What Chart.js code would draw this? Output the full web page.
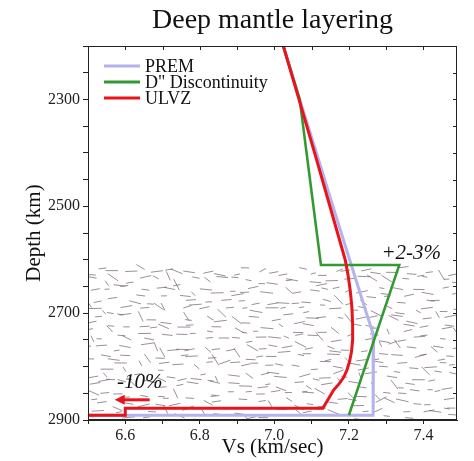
<!DOCTYPE html>
<html>
<head>
<meta charset="utf-8">
<script src="https://cdn.jsdelivr.net/npm/chart.js@4/dist/chart.umd.min.js"></script>
<style>
  html, body { margin: 0; padding: 0; background: #fff; }
  #wrap { width: 474px; height: 461px; position: relative; }
</style>
</head>
<body>
<div id="wrap"><canvas id="c"></canvas></div>
<script>
// Shear-wave velocity profiles (Vs in km/s against depth in km)
const premVs    = [7.024, 7.068, 7.113, 7.157, 7.202, 7.247, 7.266, 7.265, 6.500];
const premDepth = [2200, 2300, 2400, 2500, 2600, 2700, 2741, 2891, 2891];

const dppVs     = [7.024, 7.068, 7.125, 7.335, 7.200];
const dppDepth  = [2200, 2300, 2610, 2610, 2891];

const ulvzVs    = [7.024, 7.066, 7.108, 7.149, 7.190, 7.198, 7.204, 7.208, 7.210, 7.210,
                   7.207, 7.202, 7.195, 7.186, 7.174, 7.159, 7.130, 6.600, 6.600, 6.500];
const ulvzDepth = [2200, 2300, 2400, 2500, 2600, 2630, 2660, 2690, 2720, 2750,
                   2772, 2790, 2806, 2820, 2832, 2844, 2878, 2878, 2891, 2891];

const seriesNames = ['PREM', 'D" Discontinuity', 'ULVZ'];
const xTickLabels = ['6.6', '6.8', '7.0', '7.2', '7.4'];
const yTickLabels = ['2300', '2500', '2700', '2900'];

const dLayerTop = 2612;      // top of the textured D" region
const dppJump = { vs: 7.335, depth: 2610, text: '+2-3%' };
const ulvzDrop = { vs: 6.585, depth: 2836, text: '-10%' };

const serif = "'Liberation Serif', 'Times New Roman', serif";
const colors = ['#b3b3ee', '#339933', '#e8141c'];

function pts(xs, ys) { return xs.map((x, i) => ({ x: x, y: ys[i] })); }

// small deterministic generator for the texture strokes
function lcg(seed) {
  let s = seed >>> 0;
  return () => { s = (Math.imul(s, 1664525) + 1013904223) >>> 0; return s / 4294967296; };
}

const texture = {
  id: 'texture',
  beforeDatasetsDraw(chart) {
    const { ctx, chartArea: a, scales: { y } } = chart;
    const top = y.getPixelForValue(dLayerTop);
    const bottom = a.bottom;
    const r = lcg(20240611);
    ctx.save();
    ctx.beginPath();
    ctx.rect(a.left, a.top, a.right - a.left, a.bottom - a.top);
    ctx.clip();
    ctx.strokeStyle = 'rgba(112,94,112,0.7)';
    ctx.lineWidth = 1;
    const cw = 13, ch = 9.5;
    for (let yy = top; yy < bottom; yy += ch) {
      for (let xx = a.left - 4; xx < a.right; xx += cw) {
        const cx = xx + r() * cw;
        const cy = yy + r() * ch;
        const len = 5 + r() * 8;
        const ang = r() < 0.65 ? (r() - 0.5) * 0.45 : (r() - 0.3) * 1.7;
        const dx = Math.cos(ang) * len / 2, dy = Math.sin(ang) * len / 2;
        ctx.beginPath();
        ctx.moveTo(cx - dx, cy - dy);
        ctx.lineTo(cx + dx, cy + dy);
        ctx.stroke();
      }
    }
    ctx.restore();
  }
};

const decorations = {
  id: 'decorations',
  afterDraw(chart) {
    const { ctx, chartArea: a, scales: { x, y } } = chart;
    ctx.save();
    // title
    ctx.fillStyle = '#111';
    ctx.font = '28px ' + serif;
    ctx.textAlign = 'center';
    ctx.textBaseline = 'middle';
    ctx.fillText('Deep mantle layering', (a.left + a.right) / 2, 21);

    // frame
    ctx.strokeStyle = '#222';
    ctx.lineWidth = 1;
    ctx.strokeRect(a.left + 0.5, a.top + 0.5, a.right - a.left - 1, a.bottom - a.top - 1);

    // inward ticks on top and right
    ctx.beginPath();
    x.ticks.forEach(t => {
      const px = Math.round(x.getPixelForValue(t.value)) + 0.5;
      ctx.moveTo(px, a.top); ctx.lineTo(px, a.top + 4);
    });
    y.ticks.forEach(t => {
      const py = Math.round(y.getPixelForValue(t.value)) + 0.5;
      ctx.moveTo(a.right, py); ctx.lineTo(a.right - 4, py);
    });
    ctx.stroke();

    // legend
    ctx.font = '18px ' + serif;
    ctx.textAlign = 'left';
    chart.data.datasets.forEach((ds, i) => {
      const ly = a.top + 20 + i * 16;
      ctx.strokeStyle = ds.borderColor;
      ctx.lineWidth = 3;
      ctx.beginPath();
      ctx.moveTo(a.left + 16, ly); ctx.lineTo(a.left + 52, ly);
      ctx.stroke();
      ctx.fillStyle = '#111';
      ctx.fillText(ds.label, a.left + 57, ly + 1);
    });

    // annotations
    ctx.font = 'italic 21px ' + serif;
    ctx.textAlign = 'center';
    ctx.fillStyle = '#111';
    ctx.fillText(dppJump.text, x.getPixelForValue(dppJump.vs) + 12, y.getPixelForValue(dppJump.depth) - 12);
    const tx = x.getPixelForValue(ulvzDrop.vs);
    const ty = y.getPixelForValue(ulvzDrop.depth);
    ctx.fillText(ulvzDrop.text, tx + 20, ty - 3);

    // arrow pointing toward lower velocity
    const ay = ty + 14;
    const ax0 = tx + 30, ax1 = tx - 5;
    ctx.strokeStyle = colors[2];
    ctx.fillStyle = colors[2];
    ctx.lineWidth = 3;
    ctx.beginPath();
    ctx.moveTo(ax0, ay); ctx.lineTo(ax1 + 7, ay);
    ctx.stroke();
    ctx.beginPath();
    ctx.moveTo(ax1, ay); ctx.lineTo(ax1 + 10, ay - 5); ctx.lineTo(ax1 + 10, ay + 5);
    ctx.closePath();
    ctx.fill();
    ctx.restore();
  }
};

const lineStyle = (i) => ({
  label: seriesNames[i],
  borderColor: colors[i],
  backgroundColor: colors[i],
  borderWidth: i === 1 ? 2.6 : 3,
  showLine: true,
  pointRadius: 0,
  tension: 0,
  fill: false,
  borderJoinStyle: 'miter',
  order: 2 - i
});

new Chart(document.getElementById('c'), {
  type: 'scatter',
  data: {
    datasets: [
      Object.assign({ data: pts(premVs, premDepth) }, lineStyle(0)),
      Object.assign({ data: pts(dppVs, dppDepth) }, lineStyle(1)),
      Object.assign({ data: pts(ulvzVs, ulvzDepth) }, lineStyle(2))
    ]
  },
  options: {
    responsive: true,
    maintainAspectRatio: false,
    animation: false,
    layout: { padding: { top: 46, right: 17, left: 0, bottom: 0 } },
    plugins: { legend: { display: false }, tooltip: { enabled: false }, title: { display: false } },
    scales: {
      x: {
        type: 'linear', min: 6.5, max: 7.49,
        afterFit(s) { s.height = 41; },
        ticks: {
          stepSize: 0.1, includeBounds: false, autoSkip: false, maxRotation: 0, padding: 2,
          color: '#222', font: { family: serif, size: 16 },
          callback(v) { const t = (Math.round(v * 10) / 10).toFixed(1); return xTickLabels.includes(t) ? t : ''; }
        },
        grid: { drawOnChartArea: false, drawTicks: true, tickLength: 4, color: '#222' },
        border: { display: true, color: '#222' },
        title: { display: true, text: 'Vs (km/sec)', color: '#111', font: { family: serif, size: 21 }, padding: { top: 0, bottom: 1 } }
      },
      y: {
        type: 'linear', min: 2200, max: 2900, reverse: true,
        afterFit(s) { s.width = 88; },
        ticks: {
          stepSize: 50, autoSkip: false, padding: 3,
          color: '#222', font: { family: serif, size: 16 },
          callback(v) { const t = String(Math.round(v)); return yTickLabels.includes(t) ? t : ''; }
        },
        grid: { drawOnChartArea: false, drawTicks: true, tickLength: 5, color: '#222' },
        border: { display: true, color: '#222' },
        title: { display: true, text: 'Depth (km)', color: '#111', font: { family: serif, size: 21 }, padding: { top: 22, bottom: 0 } }
      }
    }
  },
  plugins: [texture, decorations]
});
</script>
</body>
</html>
